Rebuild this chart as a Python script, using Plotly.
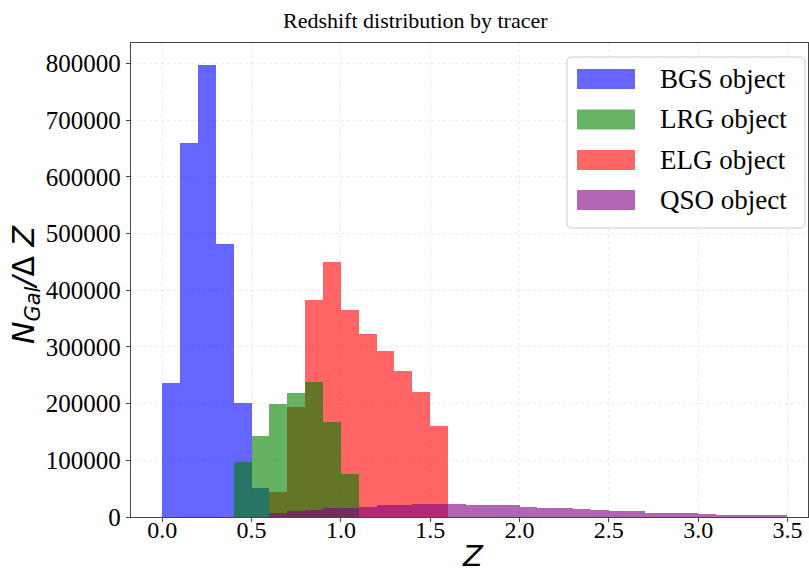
import numpy as np
import plotly.graph_objects as go

# Redshift histograms (bin width 0.1); each list starts at its first non-empty bin
bin_width = 0.1
bgs_first_edge = 0.0
bgs_counts = [236800, 659700, 797200, 481700, 200900, 50500]
lrg_first_edge = 0.4
lrg_counts = [97500, 143200, 198600, 219200, 237900, 167400, 75200]
elg_first_edge = 0.6
elg_counts = [44500, 193800, 382400, 450000, 365400, 322500, 293200, 258000,
              220300, 161000]
qso_first_edge = 0.6
qso_counts = [6700, 10200, 12700, 15500, 16700, 18500, 21500, 21500, 23800,
              23800, 22800, 22000, 21500, 20300, 18000, 16200, 16200, 14400,
              12700, 10900, 10200, 7900, 6700, 6200, 5600, 4400, 3900, 3200,
              2100]

tracer_names = ["BGS object", "LRG object", "ELG object", "QSO object"]
tracer_colors = ["blue", "green", "red", "purple"]
# the same colours at 60 % opacity, for the legend swatches
swatch_colors = ["#6666ff", "#66b366", "#ff6666", "#b366b3"]

x_ticks = [0.0, 0.5, 1.0, 1.5, 2.0, 2.5, 3.0, 3.5]
y_ticks = [0, 100000, 200000, 300000, 400000, 500000, 600000, 700000, 800000]

series = {
    "BGS object": (bgs_first_edge, bgs_counts),
    "LRG object": (lrg_first_edge, lrg_counts),
    "ELG object": (elg_first_edge, elg_counts),
    "QSO object": (qso_first_edge, qso_counts),
}
colors = dict(zip(tracer_names, tracer_colors))
# stacking order of the translucent histograms (LRG sits over ELG)
draw_order = ["BGS object", "ELG object", "LRG object", "QSO object"]

W, H = 809, 573
ML, MR, MT, MB = 131, 1, 43, 56
PW, PH = W - ML - MR, H - MT - MB


def px(x):
    return (x - ML) / PW


def py(y):
    return (H - MB - y) / PH


fig = go.Figure()
for name in draw_order:
    first, counts = series[name]
    edges = np.round(first + bin_width * np.arange(len(counts)), 2)
    fig.add_trace(go.Bar(
        x=edges, y=counts, width=bin_width, offset=0, name=name,
        marker=dict(color=colors[name], line=dict(width=0)), opacity=0.6,
        showlegend=False,
    ))

serif = "Liberation Serif, Times New Roman, serif"
sans = "DejaVu Sans, sans-serif"

fig.update_layout(
    width=W, height=H,
    margin=dict(l=ML, r=MR, t=MT, b=MB, pad=0),
    paper_bgcolor="white", plot_bgcolor="white",
    barmode="overlay", bargap=0,
    template="none",
    font=dict(family=serif, color="black"),
)
axis_common = dict(
    showline=True, mirror=True, linecolor="#444", linewidth=1.3,
    ticks="outside", ticklen=4, tickcolor="#444", tickwidth=1,
    showgrid=True, gridcolor="rgba(0,0,0,0.08)", griddash="dot", gridwidth=1,
    zeroline=False, layer="above traces",
)
fig.update_xaxes(range=[-0.175, 3.615], tickvals=x_ticks,
                 ticktext=[f"{v:.1f}" for v in x_ticks],
                 tickfont=dict(family=serif, size=24, color="black"),
                 ticklabelstandoff=-13,
                 **axis_common)
fig.update_yaxes(range=[0, 836000], tickvals=y_ticks,
                 ticktext=[str(v) for v in y_ticks],
                 tickfont=dict(family=serif, size=25, color="black"),
                 **axis_common)

annotations = [
    dict(text="Redshift distribution by tracer", x=px(415), y=py(20),
         xref="paper", yref="paper", xanchor="center", yanchor="middle",
         showarrow=False, font=dict(family=serif, size=22, color="black")),
    dict(text="<i>N</i><sub><i>Gal</i></sub><i>/</i>Δ <i>Z</i>",
         x=px(25), y=py(284), xref="paper", yref="paper",
         xanchor="center", yanchor="middle", textangle=-90, showarrow=False,
         font=dict(family=sans, size=30, color="black")),
    dict(text="<i>Z</i>", x=px(473), y=py(556), xref="paper", yref="paper",
         xanchor="center", yanchor="middle", showarrow=False,
         font=dict(family=sans, size=29, color="black")),
]

# legend frame with rounded corners
bx0, bx1, by0, by1 = px(567), px(805), py(228), py(57)
rx, ry = 5 / PW, 5 / PH
frame = (f"M {bx0 + rx},{by0} L {bx1 - rx},{by0} Q {bx1},{by0} {bx1},{by0 + ry} "
         f"L {bx1},{by1 - ry} Q {bx1},{by1} {bx1 - rx},{by1} "
         f"L {bx0 + rx},{by1} Q {bx0},{by1} {bx0},{by1 - ry} "
         f"L {bx0},{by0 + ry} Q {bx0},{by0} {bx0 + rx},{by0} Z")
shapes = [dict(type="path", path=frame, xref="paper", yref="paper",
               fillcolor="rgba(255,255,255,0.8)",
               line=dict(color="#cccccc", width=1), layer="above")]

row_centers = [79, 119.5, 160, 200]
for yc, name, sc in zip(row_centers, tracer_names, swatch_colors):
    shapes.append(dict(type="rect", xref="paper", yref="paper",
                       x0=px(577), x1=px(635), y0=py(yc + 10), y1=py(yc - 10),
                       fillcolor=sc, line=dict(width=0), layer="above"))
    annotations.append(dict(text=name, x=px(658), y=py(yc), xref="paper",
                            yref="paper", xanchor="left", yanchor="middle",
                            showarrow=False,
                            font=dict(family=serif, size=27, color="black")))

fig.update_layout(shapes=shapes, annotations=annotations)
fig.write_html("out.html")
